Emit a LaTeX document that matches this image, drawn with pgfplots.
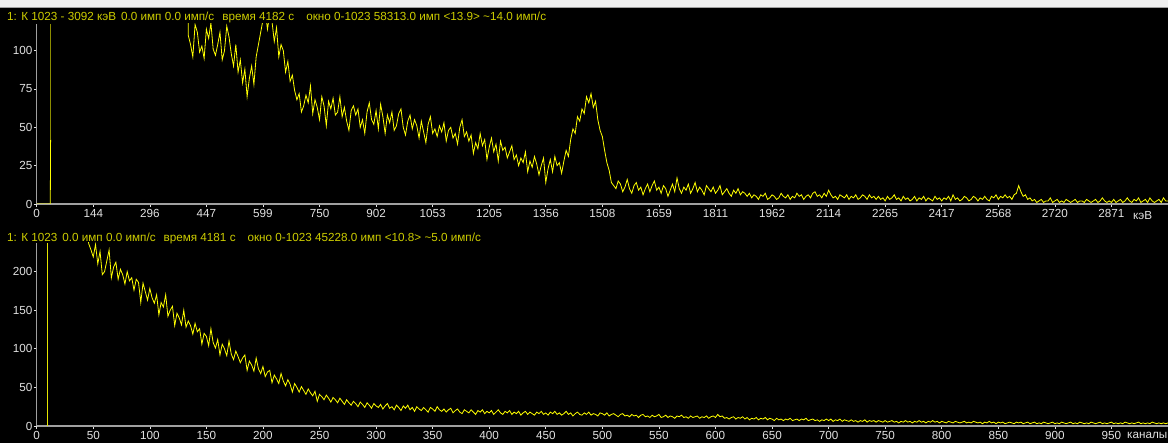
\documentclass[border=0pt]{standalone}
\usepackage{fontspec}
\setmainfont{Liberation Sans}
\usepackage{pgfplots}
\usepackage{pgfplotstable}
\pgfplotsset{compat=1.18}

\definecolor{trace}{RGB}{255,255,0}
\definecolor{dimtrace}{RGB}{140,140,0}
\definecolor{hdr}{RGB}{205,205,0}
\definecolor{axgray}{RGB}{160,160,160}
\definecolor{lbl}{RGB}{225,225,225}

% spectrum 1 (energy scale), channel / counts
\pgfplotstableread[row sep=\\]{
x y\\
0 0\\ 12 0\\ 12.3 42\\
}\topstart
\pgfplotstableread[row sep=\\]{
x y\\
132 400\\ 134 110\\ 136 104\\ 138 96\\ 140 117\\ 142 112\\ 144 99\\ 146 103\\ 148 95\\ 150 114\\
152 108\\ 154 118\\ 156 101\\ 158 97\\ 160 104\\ 162 112\\ 164 94\\ 166 100\\ 168 116\\ 170 109\\
172 98\\ 174 90\\ 176 104\\ 178 86\\ 180 94\\ 182 79\\ 184 88\\ 186 70\\ 188 82\\ 190 90\\
192 78\\ 194 96\\ 196 104\\ 198 112\\ 200 120\\ 202 126\\ 204 114\\ 206 124\\ 208 119\\ 210 106\\
212 115\\ 214 96\\ 216 104\\ 218 100\\ 220 86\\ 222 93\\ 224 80\\ 226 84\\ 228 74\\ 230 68\\
232 72\\ 234 60\\ 236 64\\ 238 71\\ 240 66\\ 242 77\\ 244 59\\ 246 68\\ 248 63\\ 250 55\\
252 70\\ 254 64\\ 256 51\\ 258 67\\ 260 62\\ 262 69\\ 264 58\\ 266 60\\ 268 70\\ 270 57\\
272 63\\ 274 54\\ 276 48\\ 278 61\\ 280 64\\ 282 58\\ 284 62\\ 286 50\\ 288 55\\ 290 46\\
292 60\\ 294 66\\ 296 55\\ 298 52\\ 300 61\\ 302 49\\ 304 65\\ 306 57\\ 308 46\\ 310 58\\
312 53\\ 314 60\\ 316 48\\ 318 51\\ 320 59\\ 322 62\\ 324 50\\ 326 45\\ 328 54\\ 330 58\\
332 49\\ 334 55\\ 336 51\\ 338 43\\ 340 54\\ 342 47\\ 344 40\\ 346 52\\ 348 57\\ 350 46\\
352 49\\ 354 44\\ 356 51\\ 358 47\\ 360 53\\ 362 41\\ 364 48\\ 366 50\\ 368 43\\ 370 46\\
372 39\\ 374 50\\ 376 55\\ 378 44\\ 380 47\\ 382 41\\ 384 45\\ 386 33\\ 388 40\\ 390 36\\
392 46\\ 394 38\\ 396 42\\ 398 29\\ 400 37\\ 402 43\\ 404 34\\ 406 39\\ 408 28\\ 410 41\\
412 35\\ 414 37\\ 416 30\\ 418 34\\ 420 38\\ 422 29\\ 424 32\\ 426 25\\ 428 30\\ 430 27\\
432 34\\ 434 21\\ 436 28\\ 438 24\\ 440 31\\ 442 26\\ 444 19\\ 446 25\\ 448 30\\ 450 14\\
452 23\\ 454 29\\ 456 21\\ 458 31\\ 460 25\\ 462 27\\ 464 20\\ 466 28\\ 468 35\\ 470 31\\
472 42\\ 474 49\\ 476 46\\ 478 57\\ 480 54\\ 482 62\\ 484 59\\ 486 70\\ 488 66\\ 490 72\\
492 63\\ 494 67\\ 496 55\\ 498 48\\ 500 44\\ 502 35\\ 504 27\\ 506 22\\ 508 14\\ 510 12\\
512 10\\ 514 15\\ 516 13\\ 518 8\\ 520 11\\ 522 16\\ 524 10\\ 526 7\\ 528 12\\ 530 14\\
532 9\\ 534 11\\ 536 6\\ 538 10\\ 540 13\\ 542 8\\ 544 12\\ 546 15\\ 548 9\\ 550 11\\
552 7\\ 554 12\\ 556 10\\ 558 5\\ 560 9\\ 562 13\\ 564 8\\ 566 17\\ 568 10\\ 570 7\\
572 11\\ 574 9\\ 576 13\\ 578 7\\ 580 10\\ 582 14\\ 584 8\\ 586 11\\ 588 9\\ 590 6\\
592 12\\ 594 10\\ 596 8\\ 598 11\\ 600 7\\ 602 9\\ 604 12\\ 606 6\\ 608 8\\ 610 10\\
612 7\\ 614 5\\ 616 9\\ 618 7\\ 620 10\\ 622 6\\ 624 8\\ 626 7\\ 628 5\\ 630 7\\
632 4\\ 634 6\\ 636 5\\ 638 3\\ 640 6\\ 642 5\\ 644 7\\ 646 3\\ 648 4\\ 650 6\\
652 5\\ 654 3\\ 656 4\\ 658 7\\ 660 5\\ 662 4\\ 664 6\\ 666 3\\ 668 5\\ 670 4\\
672 7\\ 674 5\\ 676 6\\ 678 3\\ 680 5\\ 682 6\\ 684 4\\ 686 7\\ 688 8\\ 690 5\\
692 6\\ 694 4\\ 696 7\\ 698 5\\ 700 9\\ 702 6\\ 704 4\\ 706 5\\ 708 3\\ 710 6\\
712 5\\ 714 4\\ 716 6\\ 718 3\\ 720 5\\ 722 4\\ 724 6\\ 726 3\\ 728 4\\ 730 6\\
732 5\\ 734 3\\ 736 6\\ 738 4\\ 740 5\\ 742 3\\ 744 5\\ 746 3\\ 748 4\\ 750 2\\
752 5\\ 754 3\\ 756 4\\ 758 6\\ 760 3\\ 762 4\\ 764 2\\ 766 5\\ 768 3\\ 770 4\\
772 2\\ 774 3\\ 776 5\\ 778 2\\ 780 4\\ 782 3\\ 784 5\\ 786 2\\ 788 4\\ 790 3\\
792 2\\ 794 5\\ 796 3\\ 798 4\\ 800 2\\ 802 4\\ 804 3\\ 806 5\\ 808 2\\ 810 6\\
812 3\\ 814 4\\ 816 2\\ 818 3\\ 820 5\\ 822 4\\ 824 2\\ 826 3\\ 828 5\\ 830 4\\
832 2\\ 834 4\\ 836 3\\ 838 5\\ 840 3\\ 842 2\\ 844 5\\ 846 4\\ 848 6\\ 850 3\\
852 5\\ 854 4\\ 856 6\\ 858 4\\ 860 5\\ 862 3\\ 864 6\\ 866 7\\ 868 12\\ 870 8\\
872 5\\ 874 6\\ 876 3\\ 878 4\\ 880 2\\ 882 3\\ 884 1\\ 886 2\\ 888 3\\ 890 1\\
892 2\\ 894 2\\ 896 4\\ 898 1\\ 900 2\\ 902 3\\ 904 1\\ 906 2\\ 908 1\\ 910 3\\
912 2\\ 914 1\\ 916 2\\ 918 3\\ 920 1\\ 922 2\\ 924 2\\ 926 1\\ 928 3\\ 930 2\\
932 1\\ 934 2\\ 936 3\\ 938 1\\ 940 2\\ 942 4\\ 944 2\\ 946 1\\ 948 2\\ 950 1\\
952 3\\ 954 1\\ 956 2\\ 958 3\\ 960 1\\ 962 2\\ 964 4\\ 966 2\\ 968 1\\ 970 3\\
972 2\\ 974 4\\ 976 1\\ 978 2\\ 980 3\\ 982 1\\ 984 4\\ 986 2\\ 988 1\\ 990 2\\
992 3\\ 994 1\\ 996 4\\ 998 2\\ 1000 2\\
}\topspec

% spectrum 2 (channel scale)
\pgfplotstableread[row sep=\\]{
x y\\
44 260\\ 46 236\\ 48 228\\ 50 219\\ 52 235\\ 54 210\\ 56 226\\ 58 196\\ 60 200\\ 62 214\\
64 228\\ 66 192\\ 68 206\\ 70 212\\ 72 190\\ 74 203\\ 76 196\\ 78 184\\ 80 200\\ 82 188\\
84 192\\ 86 176\\ 88 190\\ 90 186\\ 92 160\\ 94 185\\ 96 174\\ 98 163\\ 100 178\\ 102 166\\
104 159\\ 106 170\\ 108 144\\ 110 160\\ 112 154\\ 114 170\\ 116 142\\ 118 150\\ 120 155\\ 122 130\\
124 146\\ 126 140\\ 128 131\\ 130 150\\ 132 128\\ 134 136\\ 136 130\\ 138 119\\ 140 133\\ 142 122\\
144 126\\ 146 106\\ 148 120\\ 150 116\\ 152 104\\ 154 126\\ 156 108\\ 158 101\\ 160 112\\ 162 92\\
164 106\\ 166 100\\ 168 91\\ 170 110\\ 172 93\\ 174 86\\ 176 97\\ 178 90\\ 180 82\\ 182 88\\
184 92\\ 186 72\\ 188 84\\ 190 79\\ 192 71\\ 194 88\\ 196 74\\ 198 68\\ 200 77\\ 202 64\\
204 70\\ 206 72\\ 208 56\\ 210 66\\ 212 61\\ 214 55\\ 216 68\\ 218 58\\ 220 52\\ 222 60\\
224 54\\ 226 44\\ 228 55\\ 230 50\\ 232 44\\ 234 51\\ 236 46\\ 238 41\\ 240 48\\ 242 43\\
244 39\\ 246 45\\ 248 32\\ 250 41\\ 252 38\\ 254 34\\ 256 40\\ 258 36\\ 260 31\\ 262 37\\
264 34\\ 266 30\\ 268 36\\ 270 32\\ 272 28\\ 274 34\\ 276 30\\ 278 27\\ 280 32\\ 282 29\\
284 25\\ 286 31\\ 288 28\\ 290 24\\ 292 30\\ 294 27\\ 296 23\\ 298 29\\ 300 26\\ 302 24\\
304 28\\ 306 22\\ 308 26\\ 310 29\\ 312 23\\ 314 25\\ 316 21\\ 318 27\\ 320 24\\ 322 20\\
324 26\\ 326 23\\ 328 27\\ 330 21\\ 332 24\\ 334 19\\ 336 25\\ 338 22\\ 340 20\\ 342 24\\
344 21\\ 346 18\\ 348 24\\ 350 22\\ 352 19\\ 354 25\\ 356 21\\ 358 19\\ 360 22\\ 362 18\\
364 21\\ 366 23\\ 368 17\\ 370 20\\ 372 22\\ 374 18\\ 376 16\\ 378 21\\ 380 19\\ 382 17\\
384 21\\ 386 18\\ 388 15\\ 390 20\\ 392 18\\ 394 21\\ 396 16\\ 398 19\\ 400 17\\ 402 20\\
404 15\\ 406 18\\ 408 21\\ 410 17\\ 412 15\\ 414 19\\ 416 17\\ 418 20\\ 420 15\\ 422 18\\
424 16\\ 426 19\\ 428 14\\ 430 17\\ 432 19\\ 434 15\\ 436 18\\ 438 16\\ 440 14\\ 442 18\\
444 16\\ 446 19\\ 448 15\\ 450 17\\ 452 14\\ 454 18\\ 456 16\\ 458 19\\ 460 15\\ 462 17\\
464 14\\ 466 16\\ 468 19\\ 470 15\\ 472 17\\ 474 13\\ 476 16\\ 478 18\\ 480 15\\ 482 14\\
484 17\\ 486 15\\ 488 18\\ 490 14\\ 492 16\\ 494 15\\ 496 13\\ 498 17\\ 500 16\\ 502 14\\
504 17\\ 506 13\\ 508 15\\ 510 16\\ 512 14\\ 514 12\\ 516 15\\ 518 16\\ 520 13\\ 522 14\\
524 12\\ 526 15\\ 528 13\\ 530 14\\ 532 11\\ 534 14\\ 536 15\\ 538 12\\ 540 13\\ 542 11\\
544 14\\ 546 12\\ 548 13\\ 550 15\\ 552 11\\ 554 12\\ 556 14\\ 558 11\\ 560 13\\ 562 12\\
564 10\\ 566 13\\ 568 12\\ 570 14\\ 572 11\\ 574 12\\ 576 10\\ 578 13\\ 580 11\\ 582 12\\
584 13\\ 586 10\\ 588 12\\ 590 11\\ 592 13\\ 594 10\\ 596 12\\ 598 13\\ 600 11\\ 602 15\\
604 12\\ 606 13\\ 608 10\\ 610 11\\ 612 9\\ 614 11\\ 616 12\\ 618 9\\ 620 11\\ 622 10\\
624 12\\ 626 9\\ 628 11\\ 630 8\\ 632 10\\ 634 9\\ 636 11\\ 638 8\\ 640 10\\ 642 9\\
644 11\\ 646 8\\ 648 10\\ 650 9\\ 652 7\\ 654 10\\ 656 8\\ 658 9\\ 660 7\\ 662 9\\
664 8\\ 666 10\\ 668 7\\ 670 8\\ 672 9\\ 674 7\\ 676 9\\ 678 8\\ 680 10\\ 682 7\\
684 8\\ 686 9\\ 688 7\\ 690 8\\ 692 6\\ 694 8\\ 696 7\\ 698 9\\ 700 7\\ 702 9\\
704 6\\ 706 8\\ 708 7\\ 710 9\\ 712 6\\ 714 8\\ 716 7\\ 718 6\\ 720 8\\ 722 6\\
724 7\\ 726 5\\ 728 7\\ 730 6\\ 732 8\\ 734 5\\ 736 7\\ 738 6\\ 740 7\\ 742 5\\
744 7\\ 746 6\\ 748 5\\ 750 7\\ 752 5\\ 754 6\\ 756 7\\ 758 5\\ 760 6\\ 762 4\\
764 6\\ 766 5\\ 768 7\\ 770 5\\ 772 6\\ 774 4\\ 776 6\\ 778 5\\ 780 7\\ 782 5\\
784 6\\ 786 4\\ 788 6\\ 790 5\\ 792 7\\ 794 5\\ 796 6\\ 798 4\\ 800 6\\ 802 5\\
804 4\\ 806 6\\ 808 5\\ 810 4\\ 812 6\\ 814 5\\ 816 4\\ 818 5\\ 820 6\\ 822 4\\
824 5\\ 826 4\\ 828 6\\ 830 5\\ 832 4\\ 834 5\\ 836 3\\ 838 5\\ 840 4\\ 842 6\\
844 4\\ 846 5\\ 848 3\\ 850 5\\ 852 4\\ 854 5\\ 856 3\\ 858 4\\ 860 5\\ 862 4\\
864 3\\ 866 5\\ 868 4\\ 870 5\\ 872 3\\ 874 4\\ 876 5\\ 878 3\\ 880 4\\ 882 5\\
884 3\\ 886 4\\ 888 3\\ 890 5\\ 892 4\\ 894 3\\ 896 4\\ 898 5\\ 900 3\\ 902 4\\
904 3\\ 906 5\\ 908 4\\ 910 3\\ 912 4\\ 914 5\\ 916 3\\ 918 4\\ 920 3\\ 922 5\\
924 4\\ 926 3\\ 928 4\\ 930 3\\ 932 5\\ 934 4\\ 936 3\\ 938 4\\ 940 5\\ 942 3\\
944 4\\ 946 3\\ 948 4\\ 950 5\\ 952 3\\ 954 4\\ 956 3\\ 958 4\\ 960 3\\ 962 5\\
964 4\\ 966 3\\ 968 4\\ 970 3\\ 972 4\\ 974 5\\ 976 3\\ 978 4\\ 980 3\\ 982 4\\
984 3\\ 986 5\\ 988 4\\ 990 3\\ 992 4\\ 994 3\\ 996 4\\ 998 3\\ 1000 4\\
}\botspec

% spectrum 2, zero run and step up at the cursor channel
\pgfplotstableread[row sep=\\]{
x y\\
0 0\\ 9.55 0\\ 9.55 237\\
}\botstart

\pgfplotsset{spec/.style={
  scale only axis, width=1131.3bp,
  xmin=0, xmax=1000, ymin=0,
  axis x line=bottom, axis y line=left,
  x axis line style={-, axgray, line width=1.6bp},
  y axis line style={-, axgray, line width=0.8bp},
  xtick={0,50,...,950},
  tick align=outside, major tick length=3bp,
  tick style={lbl, line width=0.6bp},
  ticklabel style={font=\fontsize{11.7bp}{14bp}\selectfont, text=lbl},
  /pgf/number format/assume math mode=true,
  xticklabel style={inner sep=1bp, yshift=-1.5bp},
  yticklabel style={inner sep=1bp},
}}

\begin{document}
\begin{tikzpicture}
\useasboundingbox (0,0) rectangle (1168bp,443bp);
\fill[black] (0,0) rectangle (1168bp,443bp);
\fill[white!94!black] (0,436bp) rectangle (1168bp,443bp);
\draw[axgray, line width=0.8bp] (0,435.6bp) -- (1168bp,435.6bp);

\begin{axis}[spec, at={(36.7bp,239bp)}, anchor=south west,
  height=180bp, ymax=117.4, ytick={0,25,50,75,100},
  xticklabels={0,144,296,447,599,750,902,1053,1205,1356,1508,1659,1811,1962,2114,2265,2417,2568,2720,2871}]
\addplot[trace, line width=0.8bp] table {\topstart};
\addplot[dimtrace, line width=0.8bp] coordinates {(12.3,42) (12.3,117.4)};
\addplot[trace, line width=0.8bp] table {\topspec};
\end{axis}

\begin{axis}[spec, at={(36.7bp,17bp)}, anchor=south west,
  height=183bp, ymax=237, ytick={0,50,100,150,200},
  xticklabels={0,50,100,150,200,250,300,350,400,450,500,550,600,650,700,750,800,850,900,950}]
\addplot[trace!90!black, line width=1bp] table {\botstart};
\addplot[trace, line width=0.8bp] table {\botspec};
\end{axis}

\begin{scope}[font=\fontsize{11.7bp}{14bp}\selectfont]
\node[anchor=west, inner sep=0, text=hdr] at (7bp,426bp)
  {1: К 1023 - 3092 кэВ\hspace{5bp}0.0 имп 0.0 имп/с\hspace{8bp}время 4182 с\hspace{12bp}окно 0-1023 58313.0 имп <13.9> \textasciitilde14.0 имп/с};
\node[anchor=west, inner sep=0, text=hdr] at (7bp,205bp)
  {1: К 1023\hspace{5bp}0.0 имп 0.0 имп/с\hspace{8bp}время 4181 с\hspace{12bp}окно 0-1023 45228.0 имп <10.8> \textasciitilde5.0 имп/с};
\node[anchor=west, inner sep=0, text=lbl] at (1133bp,227bp) {кэВ};
\node[anchor=east, inner sep=0, text=lbl] at (1167.5bp,8bp) {каналы};
\end{scope}
\end{tikzpicture}
\end{document}
